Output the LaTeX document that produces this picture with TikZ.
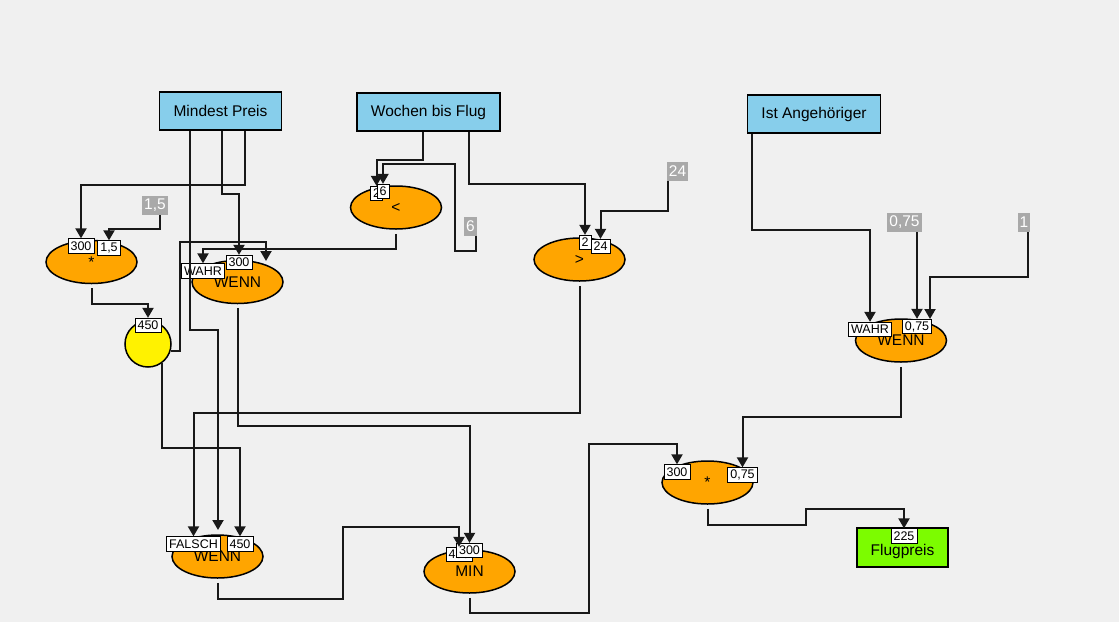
\documentclass[tikz,border=0pt]{standalone}
\usepackage{fontspec}
\setmainfont{Liberation Sans}
\usetikzlibrary{shapes.geometric, arrows.meta, calc}

\definecolor{bgcol}{HTML}{F0F0F0}
\definecolor{skyfill}{HTML}{87CEEB}
\definecolor{opfill}{HTML}{FFA500}
\definecolor{constfill}{HTML}{A9A9A9}
\definecolor{outfill}{HTML}{7CFC00}

\tikzset{
    srcbox/.style={draw=black, line width=1.5pt, fill=skyfill, minimum height=38pt, inner xsep=14pt, font=\fontsize{15.5}{18}\selectfont},
    sinkbox/.style={draw=black, line width=1.5pt, fill=outfill, minimum width=91pt, minimum height=39pt, text height=15pt, text depth=0pt, font=\fontsize{15.5}{18}\selectfont},
    constbox/.style={fill=constfill, text=white, inner xsep=2pt, inner ysep=1.5pt, minimum height=19pt, font=\fontsize{15.5}{18}\selectfont},
    opnode/.style={ellipse, draw=black, line width=1.5pt, fill=opfill, minimum width=91pt, minimum height=43pt, inner sep=0pt, font=\fontsize{15.5}{18}\selectfont},
    memonode/.style={circle, draw=black, line width=1.5pt, fill=yellow, minimum size=46pt, inner sep=0pt},
    portlbl/.style={draw=black, line width=0.8pt, fill=white, inner xsep=2.5pt, inner ysep=0pt, minimum height=14.5pt, font=\fontsize{12.5}{14}\selectfont},
    wire/.style={draw=black!90, line width=2pt, -{Triangle[width=11pt,length=10pt]}}
}

\begin{document}
\begin{tikzpicture}[x=1pt, y=-1pt]
    % Background
    \fill[bgcol] (0,0) rectangle (1119,622);

    % Inputs
    \node[srcbox] (mp) at (220.5,111) {Mindest Preis};
    \node[srcbox] (wbf) at (428.5,112) {Wochen bis Flug};
    \node[srcbox] (ia) at (814,114) {Ist Angehöriger};

    % Constants
    \node[constbox] (cA) at (155,205.5) {1,5};
    \node[constbox] (cB) at (470.5,226.5) {6};
    \node[constbox] (cC) at (677.5,171) {24};
    \node[constbox] (cD) at (904.5,222.5) {0,75};
    \node[constbox] (cE) at (1024,222.5) {1};

    % Operations
    \node[opnode] (mulA) at (91.5,262) {*};
    \node[opnode] (wennA) at (237.5,282) {WENN};
    \node[memonode] (circ) at (148,344) {};
    \node[opnode] (lt) at (396,207.5) {<};
    \node[opnode] (gt) at (579.5,259.5) {>};
    \node[opnode] (wennR) at (901,340.5) {WENN};
    \node[opnode] (wennB) at (217.5,556.5) {WENN};
    \node[opnode] (minN) at (469.5,571.5) {MIN};
    \node[opnode] (mulB) at (707.5,482.5) {*};

    % Output
    \node[sinkbox] (out) at (902.5,547.5) {Flugpreis};

    % Port values
    \node[portlbl] (mulAa) at (81,246) {300};
    \node[portlbl] (mulAb) at (109,248) {1,5};
    \node[portlbl] (wennAa) at (203,271) {WAHR};
    \node[portlbl] (wennAb) at (239,262.5) {300};
    \coordinate (wennAc) at (266,261);
    \node[portlbl] (circa) at (148,325.5) {450};
    \node[portlbl] (lta) at (376.5,193.5) {2};
    \node[portlbl] (ltb) at (383,191.5) {6};
    \node[portlbl] (gta) at (585,242.5) {2};
    \node[portlbl] (gtb) at (600.5,246.5) {24};
    \node[portlbl] (wennRa) at (870,329.5) {WAHR};
    \node[portlbl] (wennRb) at (917,326.5) {0,75};
    \coordinate (wennRc) at (930,319);
    \node[portlbl] (wennBa) at (193.5,544) {FALSCH};
    \coordinate (wennBb) at (218,530);
    \node[portlbl] (wennBc) at (240,544) {450};
    \node[portlbl] (minNa) at (459,554.5) {450};
    \node[portlbl] (minNb) at (469.5,550.5) {300};
    \node[portlbl] (mulBa) at (677,472) {300};
    \node[portlbl] (mulBb) at (742.5,475) {0,75};
    \node[portlbl] (outa) at (904,536) {225};

    % Connectors
    \draw[wire] ([xshift=24.5pt]mp.south) -- ++(0,54) -| (mulAa.north);
    \draw[wire] ([xshift=1.5pt]mp.south) -- ++(0,63) -| (wennAb.north);
    \draw[wire] ([xshift=-30.5pt]mp.south) -- ++(0,199) -| (wennBb);
    \draw[wire] ([xshift=5pt]cA.south) -- ++(0,14) -| (mulAb.north);
    \draw[wire] ([yshift=-4pt]mulA.south) -- ++(0,15.5) -| (circa.north);
    \draw[wire] (circ.-18) -| (180,242) -| (wennAc);
    \draw[wire] (circ.-55) -- ++(0,85) -| (wennBc.north);
    \draw[wire] ([xshift=-5.5pt]wbf.south) -- ++(0,28) -| (lta.north);
    \draw[wire] ([xshift=5pt]cB.south) -- ++(0,15) -| (455,164) -| (ltb.north);
    \draw[wire] ([yshift=-4pt]lt.south) -- ++(0,15) -| (wennAa.north);
    \draw[wire] ([xshift=40.5pt]wbf.south) -- ++(0,52) -| (gta.north);
    \draw[wire] ([xshift=-9.5pt]cC.south) -- ++(0,30) -| (gtb.north);
    \draw[wire] ([yshift=-4pt]gt.south) -- ++(0,127) -| (wennBa.north);
    \draw[wire] ([yshift=-4pt]wennA.south) -- ++(0,118) -| (minNb.north);
    \draw[wire] ([yshift=-4pt]wennB.south) -- ++(0,16) -| (343,527) -| (minNa.north);
    \draw[wire] ([xshift=-62pt]ia.south) -- ++(0,96) -| (wennRa.north);
    \draw[wire] (cD.south -| wennRb.north) -- (wennRb.north);
    \draw[wire] ([xshift=4pt]cE.south) -- ++(0,45) -| (wennRc);
    \draw[wire] ([yshift=-4pt]wennR.south) -- ++(0,50) -| (mulBb.north);
    \draw[wire] ([yshift=-4pt]minN.south) -- ++(0,15) -| (589,444) -| (mulBa.north);
    \draw[wire] ([yshift=-4pt]mulB.south) -- ++(0,16) -| (806,509) -| (outa.north);
\end{tikzpicture}
\end{document}
